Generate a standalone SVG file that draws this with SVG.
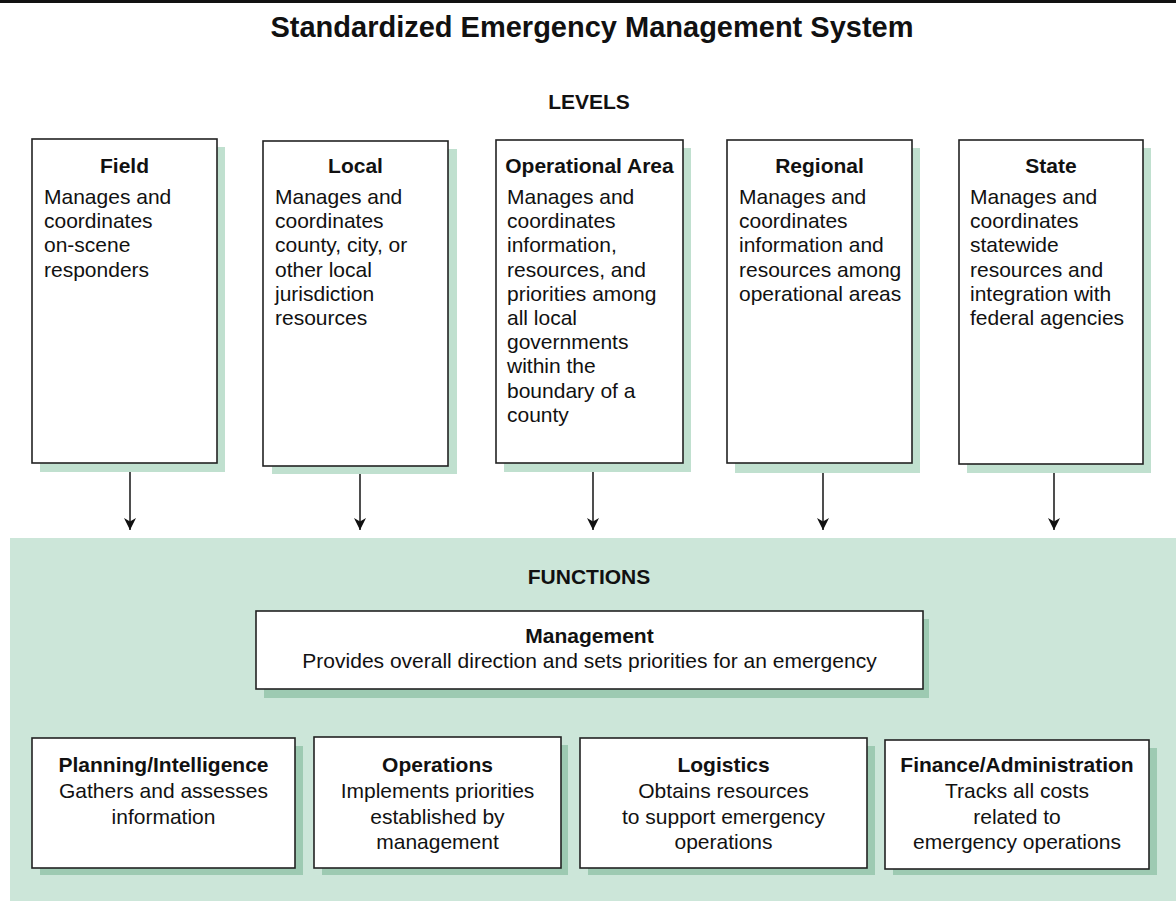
<svg xmlns="http://www.w3.org/2000/svg" width="1176" height="901" viewBox="0 0 1176 901">
<defs>
<style>
.t{font-family:"Liberation Sans",Arial,sans-serif;fill:#111;}
.h{font-weight:bold;font-size:29px;}
.sec{font-weight:bold;font-size:21px;}
.bt{font-weight:bold;font-size:21px;}
.bd{font-size:21px;}
.fb{font-size:21px;}
.box{fill:#fff;stroke:#222;stroke-width:1.6;}
.sh1{fill:#c0e0cf;}
.sh2{fill:#9dcab2;}
.conn{stroke:#222;stroke-width:1.6;fill:none;}
</style>
<marker id="ah" viewBox="0 0 12 12" refX="12" refY="6" markerWidth="12" markerHeight="12" markerUnits="userSpaceOnUse" orient="auto">
<path d="M0,0 L12,6 L0,12 L3.5,6 z" fill="#111"/>
</marker>
</defs>
<rect x="0" y="0" width="1176" height="901" fill="#fff"/>
<rect x="0" y="0" width="1176" height="3" fill="#111"/>
<text class="t h" x="592" y="37" text-anchor="middle">Standardized Emergency Management System</text>
<text class="t sec" x="589" y="109" text-anchor="middle">LEVELS</text>
<rect x="10" y="538" width="1166" height="363" fill="#cce6d9"/>
<text class="t sec" x="589" y="584" text-anchor="middle">FUNCTIONS</text>

<g id="connectors">
<line class="conn" x1="130" y1="463" x2="130" y2="530" marker-end="url(#ah)"/>
<line class="conn" x1="360" y1="466" x2="360" y2="530" marker-end="url(#ah)"/>
<line class="conn" x1="593" y1="463" x2="593" y2="530" marker-end="url(#ah)"/>
<line class="conn" x1="823" y1="463" x2="823" y2="530" marker-end="url(#ah)"/>
<line class="conn" x1="1054" y1="464" x2="1054" y2="530" marker-end="url(#ah)"/>
</g>

<g id="field">
<rect class="sh1" x="40" y="147" width="185" height="325"/>
<rect class="box" x="32" y="139" width="185" height="324"/>
<text class="t bt" x="124.5" y="173" text-anchor="middle">Field</text>
<text class="t bd" x="44" y="204">Manages and</text>
<text class="t bd" x="44" y="228.2">coordinates</text>
<text class="t bd" x="44" y="252.4">on-scene</text>
<text class="t bd" x="44" y="276.6">responders</text>
</g>

<g id="local">
<rect class="sh1" x="272" y="149" width="185" height="325"/>
<rect class="box" x="263" y="141" width="185" height="325"/>
<text class="t bt" x="355.5" y="173" text-anchor="middle">Local</text>
<text class="t bd" x="275" y="204">Manages and</text>
<text class="t bd" x="275" y="228.2">coordinates</text>
<text class="t bd" x="275" y="252.4">county, city, or</text>
<text class="t bd" x="275" y="276.6">other local</text>
<text class="t bd" x="275" y="300.8">jurisdiction</text>
<text class="t bd" x="275" y="325">resources</text>
</g>

<g id="operational-area">
<rect class="sh1" x="504" y="148" width="187" height="324"/>
<rect class="box" x="496" y="140" width="187" height="323"/>
<text class="t bt" x="589.5" y="173" text-anchor="middle">Operational Area</text>
<text class="t bd" x="507" y="204">Manages and</text>
<text class="t bd" x="507" y="228.2">coordinates</text>
<text class="t bd" x="507" y="252.4">information,</text>
<text class="t bd" x="507" y="276.6">resources, and</text>
<text class="t bd" x="507" y="300.8">priorities among</text>
<text class="t bd" x="507" y="325">all local</text>
<text class="t bd" x="507" y="349.2">governments</text>
<text class="t bd" x="507" y="373.4">within the</text>
<text class="t bd" x="507" y="397.6">boundary of a</text>
<text class="t bd" x="507" y="421.8">county</text>
</g>

<g id="regional">
<rect class="sh1" x="735" y="148" width="185" height="325"/>
<rect class="box" x="727" y="140" width="185" height="323"/>
<text class="t bt" x="819.5" y="173" text-anchor="middle">Regional</text>
<text class="t bd" x="739" y="204">Manages and</text>
<text class="t bd" x="739" y="228.2">coordinates</text>
<text class="t bd" x="739" y="252.4">information and</text>
<text class="t bd" x="739" y="276.6">resources among</text>
<text class="t bd" x="739" y="300.8">operational areas</text>
</g>

<g id="state">
<rect class="sh1" x="967" y="148" width="184" height="325"/>
<rect class="box" x="959" y="140" width="184" height="324"/>
<text class="t bt" x="1051" y="173" text-anchor="middle">State</text>
<text class="t bd" x="970" y="204">Manages and</text>
<text class="t bd" x="970" y="228.2">coordinates</text>
<text class="t bd" x="970" y="252.4">statewide</text>
<text class="t bd" x="970" y="276.6">resources and</text>
<text class="t bd" x="970" y="300.8">integration with</text>
<text class="t bd" x="970" y="325">federal agencies</text>
</g>

<g id="management">
<rect class="sh2" x="264" y="619" width="665" height="79"/>
<rect class="box" x="256" y="611" width="667" height="78"/>
<text class="t bt" x="589.5" y="643" text-anchor="middle">Management</text>
<text class="t fb" x="589.5" y="668" text-anchor="middle">Provides overall direction and sets priorities for an emergency</text>
</g>

<g id="planning">
<rect class="sh2" x="40" y="746" width="263" height="129"/>
<rect class="box" x="32" y="738" width="263" height="130"/>
<text class="t bt" x="163.5" y="772" text-anchor="middle">Planning/Intelligence</text>
<text class="t fb" x="163.5" y="798" text-anchor="middle">Gathers and assesses</text>
<text class="t fb" x="163.5" y="823.5" text-anchor="middle">information</text>
</g>

<g id="operations">
<rect class="sh2" x="322" y="745" width="246" height="130"/>
<rect class="box" x="314" y="737" width="247" height="131"/>
<text class="t bt" x="437.5" y="772" text-anchor="middle">Operations</text>
<text class="t fb" x="437.5" y="798" text-anchor="middle">Implements priorities</text>
<text class="t fb" x="437.5" y="823.5" text-anchor="middle">established by</text>
<text class="t fb" x="437.5" y="849" text-anchor="middle">management</text>
</g>

<g id="logistics">
<rect class="sh2" x="588" y="746" width="287" height="129"/>
<rect class="box" x="580" y="738" width="287" height="130"/>
<text class="t bt" x="723.5" y="772" text-anchor="middle">Logistics</text>
<text class="t fb" x="723.5" y="798" text-anchor="middle">Obtains resources</text>
<text class="t fb" x="723.5" y="823.5" text-anchor="middle">to support emergency</text>
<text class="t fb" x="723.5" y="849" text-anchor="middle">operations</text>
</g>

<g id="finance">
<rect class="sh2" x="893" y="748" width="264" height="127"/>
<rect class="box" x="885" y="740" width="264" height="129"/>
<text class="t bt" x="1017" y="772" text-anchor="middle">Finance/Administration</text>
<text class="t fb" x="1017" y="798" text-anchor="middle">Tracks all costs</text>
<text class="t fb" x="1017" y="823.5" text-anchor="middle">related to</text>
<text class="t fb" x="1017" y="849" text-anchor="middle">emergency operations</text>
</g>
</svg>
